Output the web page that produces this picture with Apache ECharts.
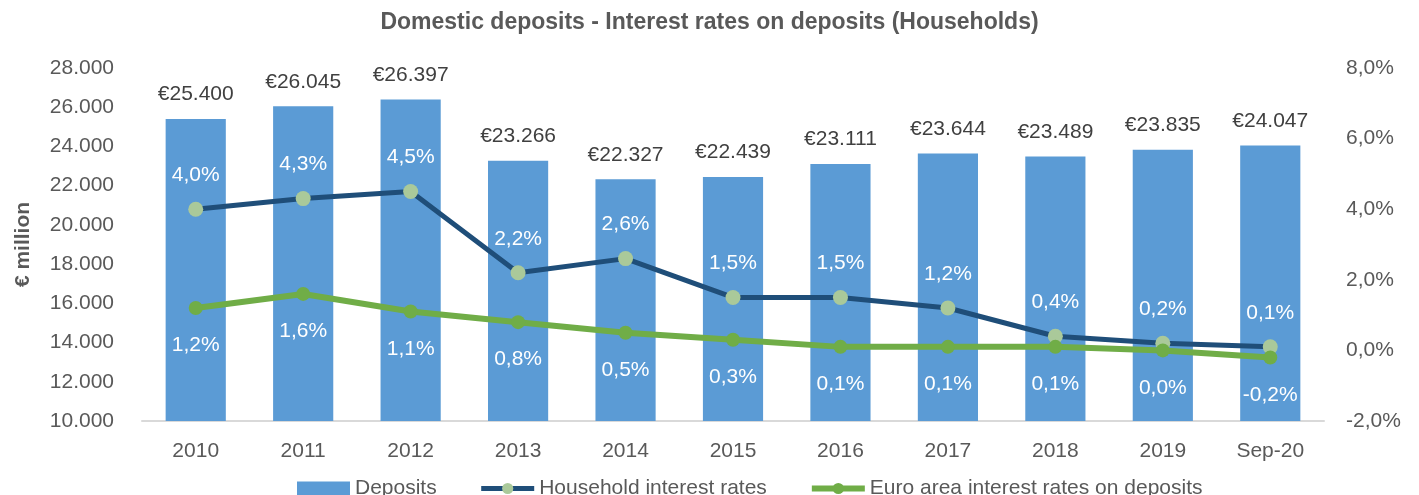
<!DOCTYPE html>
<html>
<head>
<meta charset="utf-8">
<style>
  html, body { margin: 0; padding: 0; background: #fff; }
  #chart { width: 1419px; height: 495px; }
</style>
</head>
<body>
<div id="chart"></div>
<script src="https://cdn.jsdelivr.net/npm/echarts@6/dist/echarts.min.js"></script>
<script>
var categories = ['2010', '2011', '2012', '2013', '2014', '2015', '2016', '2017', '2018', '2019', 'Sep-20'];
var deposits = [25400, 26045, 26397, 23266, 22327, 22439, 23111, 23644, 23489, 23835, 24047];
var householdRates = [4.0, 4.3, 4.5, 2.2, 2.6, 1.5, 1.5, 1.2, 0.4, 0.2, 0.1];
var euroAreaRates = [1.2, 1.6, 1.1, 0.8, 0.5, 0.3, 0.1, 0.1, 0.1, 0.0, -0.2];

var FONT = '"Liberation Sans", Arial, sans-serif';
var GREY = '#595959';

function thousands(v) {
  return String(Math.round(v)).replace(/\B(?=(\d{3})+(?!\d))/g, '.');
}
function pct(v) {
  return v.toFixed(1).replace('.', ',') + '%';
}

var myChart = echarts.init(document.getElementById('chart'));
var option = {
  backgroundColor: '#fff',
  textStyle: { fontFamily: FONT },
  title: {
    text: 'Domestic deposits - Interest rates on deposits (Households)',
    left: 'center',
    top: 6,
    textStyle: { fontFamily: FONT, fontSize: 23, fontWeight: 'bold', color: GREY }
  },
  legend: {
    left: 292,
    top: 473,
    itemWidth: 53,
    itemHeight: 14,
    itemGap: 42,
    textStyle: { fontFamily: FONT, fontSize: 21, color: GREY },
    data: [
      { name: 'Deposits', icon: 'rect' },
      { name: 'Household interest rates', lineStyle: { width: 5 } },
      { name: 'Euro area interest rates on deposits', lineStyle: { width: 6 } }
    ]
  },
  grid: { left: 142, right: 95, top: 68, bottom: 74 },
  xAxis: {
    type: 'category',
    data: categories,
    axisLine: { onZero: false, lineStyle: { color: '#d9d9d9', width: 2 } },
    axisTick: { length: 6, lineStyle: { color: '#d9d9d9', width: 2 } },
    axisLabel: { fontFamily: FONT, fontSize: 21, color: GREY, margin: 20 }
  },
  yAxis: [
    {
      type: 'value',
      min: 10000,
      max: 28000,
      interval: 2000,
      name: '€ million',
      nameLocation: 'middle',
      nameGap: 108,
      nameTextStyle: { fontFamily: FONT, fontSize: 21, fontWeight: 'bold', color: GREY },
      splitLine: { show: false },
      axisLine: { show: false },
      axisTick: { show: false },
      axisLabel: { fontFamily: FONT, fontSize: 21, color: GREY, margin: 28, formatter: thousands }
    },
    {
      type: 'value',
      min: -2,
      max: 8,
      interval: 2,
      splitLine: { show: false },
      axisLine: { show: false },
      axisTick: { show: false },
      axisLabel: { fontFamily: FONT, fontSize: 21, color: GREY, margin: 22, formatter: pct }
    }
  ],
  series: [
    {
      name: 'Deposits',
      type: 'bar',
      data: deposits,
      barCategoryGap: '44%',
      itemStyle: { color: '#5b9bd5' },
      label: {
        show: true,
        position: 'top',
        distance: 14,
        fontFamily: FONT,
        fontSize: 21,
        color: '#404040',
        formatter: function (p) { return '€' + thousands(p.value); }
      }
    },
    {
      name: 'Household interest rates',
      type: 'line',
      yAxisIndex: 1,
      data: householdRates,
      symbol: 'circle',
      symbolSize: 15,
      lineStyle: { color: '#1f4e79', width: 5 },
      itemStyle: { color: '#aac99a' },
      label: {
        show: true,
        position: 'top',
        distance: 16,
        fontFamily: FONT,
        fontSize: 21,
        color: '#ffffff',
        formatter: function (p) { return pct(p.value); }
      },
      z: 3
    },
    {
      name: 'Euro area interest rates on deposits',
      type: 'line',
      yAxisIndex: 1,
      data: euroAreaRates,
      symbol: 'circle',
      symbolSize: 14,
      lineStyle: { color: '#70ad47', width: 6 },
      itemStyle: { color: '#70ad47' },
      label: {
        show: true,
        position: 'bottom',
        distance: 20,
        fontFamily: FONT,
        fontSize: 21,
        color: '#ffffff',
        formatter: function (p) { return pct(p.value); }
      },
      z: 4
    }
  ]
};
myChart.setOption(option);
</script>
</body>
</html>
